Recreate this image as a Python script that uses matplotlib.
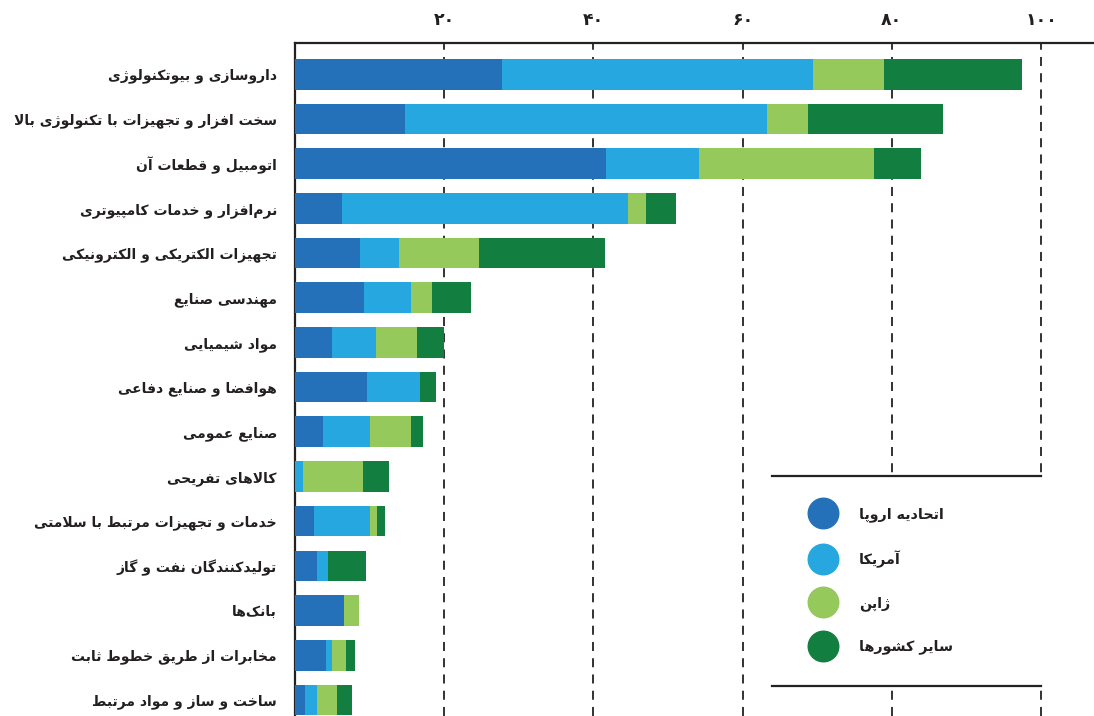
import numpy as np
import matplotlib
matplotlib.use('Agg')
import matplotlib.pyplot as plt
from matplotlib.lines import Line2D
from matplotlib.patches import Rectangle

plt.rcParams['font.family'] = ['DejaVu Sans']

# sectors, top to bottom
sectors = ['داروسازی و بیوتکنولوژی',
           'سخت افزار و تجهیزات با تکنولوژی بالا',
           'اتومبیل و قطعات آن',
           'نرم\u200cافزار و خدمات کامپیوتری',
           'تجهیزات الکتریکی و الکترونیکی',
           'مهندسی صنایع',
           'مواد شیمیایی',
           'هوافضا و صنایع دفاعی',
           'صنایع عمومی',
           'کالاهای تفریحی',
           'خدمات و تجهیزات مرتبط با سلامتی',
           'تولیدکنندگان نفت و گاز',
           'بانک\u200cها',
           'مخابرات از طریق خطوط ثابت',
           'ساخت و ساز و مواد مرتبط']

eu    = [27.8, 14.8, 41.7, 6.3, 8.7, 9.3, 5.0, 9.7, 3.8, 0.0, 2.5, 2.9, 6.6, 4.2, 1.3]
usa   = [41.6, 48.5, 12.5, 38.3, 5.2, 6.3, 5.9, 7.0, 6.3, 1.1, 7.6, 1.5, 0.0, 0.8, 1.6]
japan = [9.5, 5.5, 23.4, 2.4, 10.8, 2.7, 5.5, 0.0, 5.4, 8.0, 0.85, 0.0, 2.0, 1.8, 2.7]
other = [18.6, 18.0, 6.3, 4.1, 16.9, 5.3, 3.6, 2.2, 1.6, 3.5, 1.05, 5.1, 0.0, 1.3, 2.1]

series_names = ['اتحادیه اروپا', 'آمریکا', 'ژاپن', 'سایر کشورها']
colors = ['#2571b9', '#27a7df', '#95c95b', '#127e40']

xticks = [20, 40, 60, 80, 100]
xtick_labels = ['۲۰', '۴۰', '۶۰', '۸۰', '۱۰۰']

# matplotlib has no arabic shaping: pick presentation forms by hand, then reverse
F = {
    'ا': (0xFE8D, 0xFE8E, 0, 0), 'آ': (0xFE81, 0xFE82, 0, 0),
    'ب': (0xFE8F, 0xFE90, 0xFE91, 0xFE92), 'پ': (0xFB56, 0xFB57, 0xFB58, 0xFB59),
    'ت': (0xFE95, 0xFE96, 0xFE97, 0xFE98), 'ث': (0xFE99, 0xFE9A, 0xFE9B, 0xFE9C),
    'ج': (0xFE9D, 0xFE9E, 0xFE9F, 0xFEA0), 'ح': (0xFEA1, 0xFEA2, 0xFEA3, 0xFEA4),
    'خ': (0xFEA5, 0xFEA6, 0xFEA7, 0xFEA8), 'د': (0xFEA9, 0xFEAA, 0, 0),
    'ذ': (0xFEAB, 0xFEAC, 0, 0), 'ر': (0xFEAD, 0xFEAE, 0, 0),
    'ز': (0xFEAF, 0xFEB0, 0, 0), 'ژ': (0xFB8A, 0xFB8B, 0, 0),
    'س': (0xFEB1, 0xFEB2, 0xFEB3, 0xFEB4), 'ش': (0xFEB5, 0xFEB6, 0xFEB7, 0xFEB8),
    'ص': (0xFEB9, 0xFEBA, 0xFEBB, 0xFEBC), 'ض': (0xFEBD, 0xFEBE, 0xFEBF, 0xFEC0),
    'ط': (0xFEC1, 0xFEC2, 0xFEC3, 0xFEC4), 'ع': (0xFEC9, 0xFECA, 0xFECB, 0xFECC),
    'ف': (0xFED1, 0xFED2, 0xFED3, 0xFED4), 'ق': (0xFED5, 0xFED6, 0xFED7, 0xFED8),
    'ک': (0xFB8E, 0xFB8F, 0xFB90, 0xFB91), 'گ': (0xFB92, 0xFB93, 0xFB94, 0xFB95),
    'ل': (0xFEDD, 0xFEDE, 0xFEDF, 0xFEE0), 'م': (0xFEE1, 0xFEE2, 0xFEE3, 0xFEE4),
    'ن': (0xFEE5, 0xFEE6, 0xFEE7, 0xFEE8), 'و': (0xFEED, 0xFEEE, 0, 0),
    'ه': (0xFEE9, 0xFEEA, 0xFEEB, 0xFEEC), 'ی': (0xFBFC, 0xFBFD, 0xFBFE, 0xFBFF),
}
F['ي'] = F['ی']
F['ك'] = F['ک']


def shape(s):
    out = []
    i = 0
    while i < len(s):
        c = s[i]
        prev = s[i - 1] if i > 0 else ''
        jp = prev in F and F[prev][2] != 0
        nxt = s[i + 1] if i + 1 < len(s) else ''
        if c == 'ل' and nxt in ('ا', 'آ'):
            lig = (0xFEFB, 0xFEFC) if nxt == 'ا' else (0xFEF5, 0xFEF6)
            out.append(chr(lig[1] if jp else lig[0]))
            i += 2
            continue
        if c in F:
            f = F[c]
            jn = f[2] != 0 and nxt in F
            if jp and jn:
                out.append(chr(f[3]))
            elif jp:
                out.append(chr(f[1]))
            elif jn:
                out.append(chr(f[2]))
            else:
                out.append(chr(f[0]))
        elif c != '\u200c':
            out.append(c)
        i += 1
    return ''.join(reversed(out))


txt = '#231f20'
fig = plt.figure(figsize=(10.94, 7.16), dpi=100)
ax = fig.add_axes([295 / 1094, 0, 799 / 1094, 673 / 716])

y = np.arange(len(sectors))
left = np.zeros(len(sectors))
for vals, col in zip([eu, usa, japan, other], colors):
    ax.barh(y, vals, left=left, height=0.685, color=col, zorder=3)
    left += np.array(vals)

ax.set_xlim(0, 107.1)
ax.set_ylim(14.36, -0.698)

ax.xaxis.tick_top()
ax.set_xticks(xticks)
ax.set_xticklabels(xtick_labels, fontsize=12.5, fontweight='bold', color=txt)
ax.tick_params(axis='x', length=0, pad=10)
ax.set_yticks(y)
ax.set_yticklabels([shape(s) for s in sectors], fontsize=10, fontweight='bold', color=txt)
ax.tick_params(axis='y', length=0, pad=13)

ax.grid(axis='x', color='#222222', linestyle=(0, (5, 4)), linewidth=1.3, zorder=1)
ax.set_axisbelow(True)
for side in ['right', 'bottom']:
    ax.spines[side].set_visible(False)
for side in ['top', 'left']:
    ax.spines[side].set_linewidth(1.6)
    ax.spines[side].set_color('#222222')

# legend panel: white box with rules above and below
ax.add_patch(Rectangle((64.0, 9.0), 36.3, 4.68, facecolor='white', edgecolor='none', zorder=2))
ax.plot([64.0, 100.0], [9.0, 9.0], color='#222222', lw=1.6, zorder=4)
ax.plot([64.0, 100.0], [13.68, 13.68], color='#222222', lw=1.6, zorder=4)

handles = [Line2D([], [], marker='o', linestyle='none', markersize=22,
                  markerfacecolor=c, markeredgecolor=c) for c in colors]
ax.legend(handles, [shape(s) for s in series_names], loc='upper left',
          bbox_to_anchor=(69.8, 9.68), bbox_transform=ax.transData,
          frameon=False, borderpad=0, borderaxespad=0, handlelength=1.0,
          handletextpad=2.02, labelspacing=2.0,
          prop={'size': 10.3, 'weight': 'bold'}, labelcolor=txt)

fig.savefig('out.png', dpi=100)
